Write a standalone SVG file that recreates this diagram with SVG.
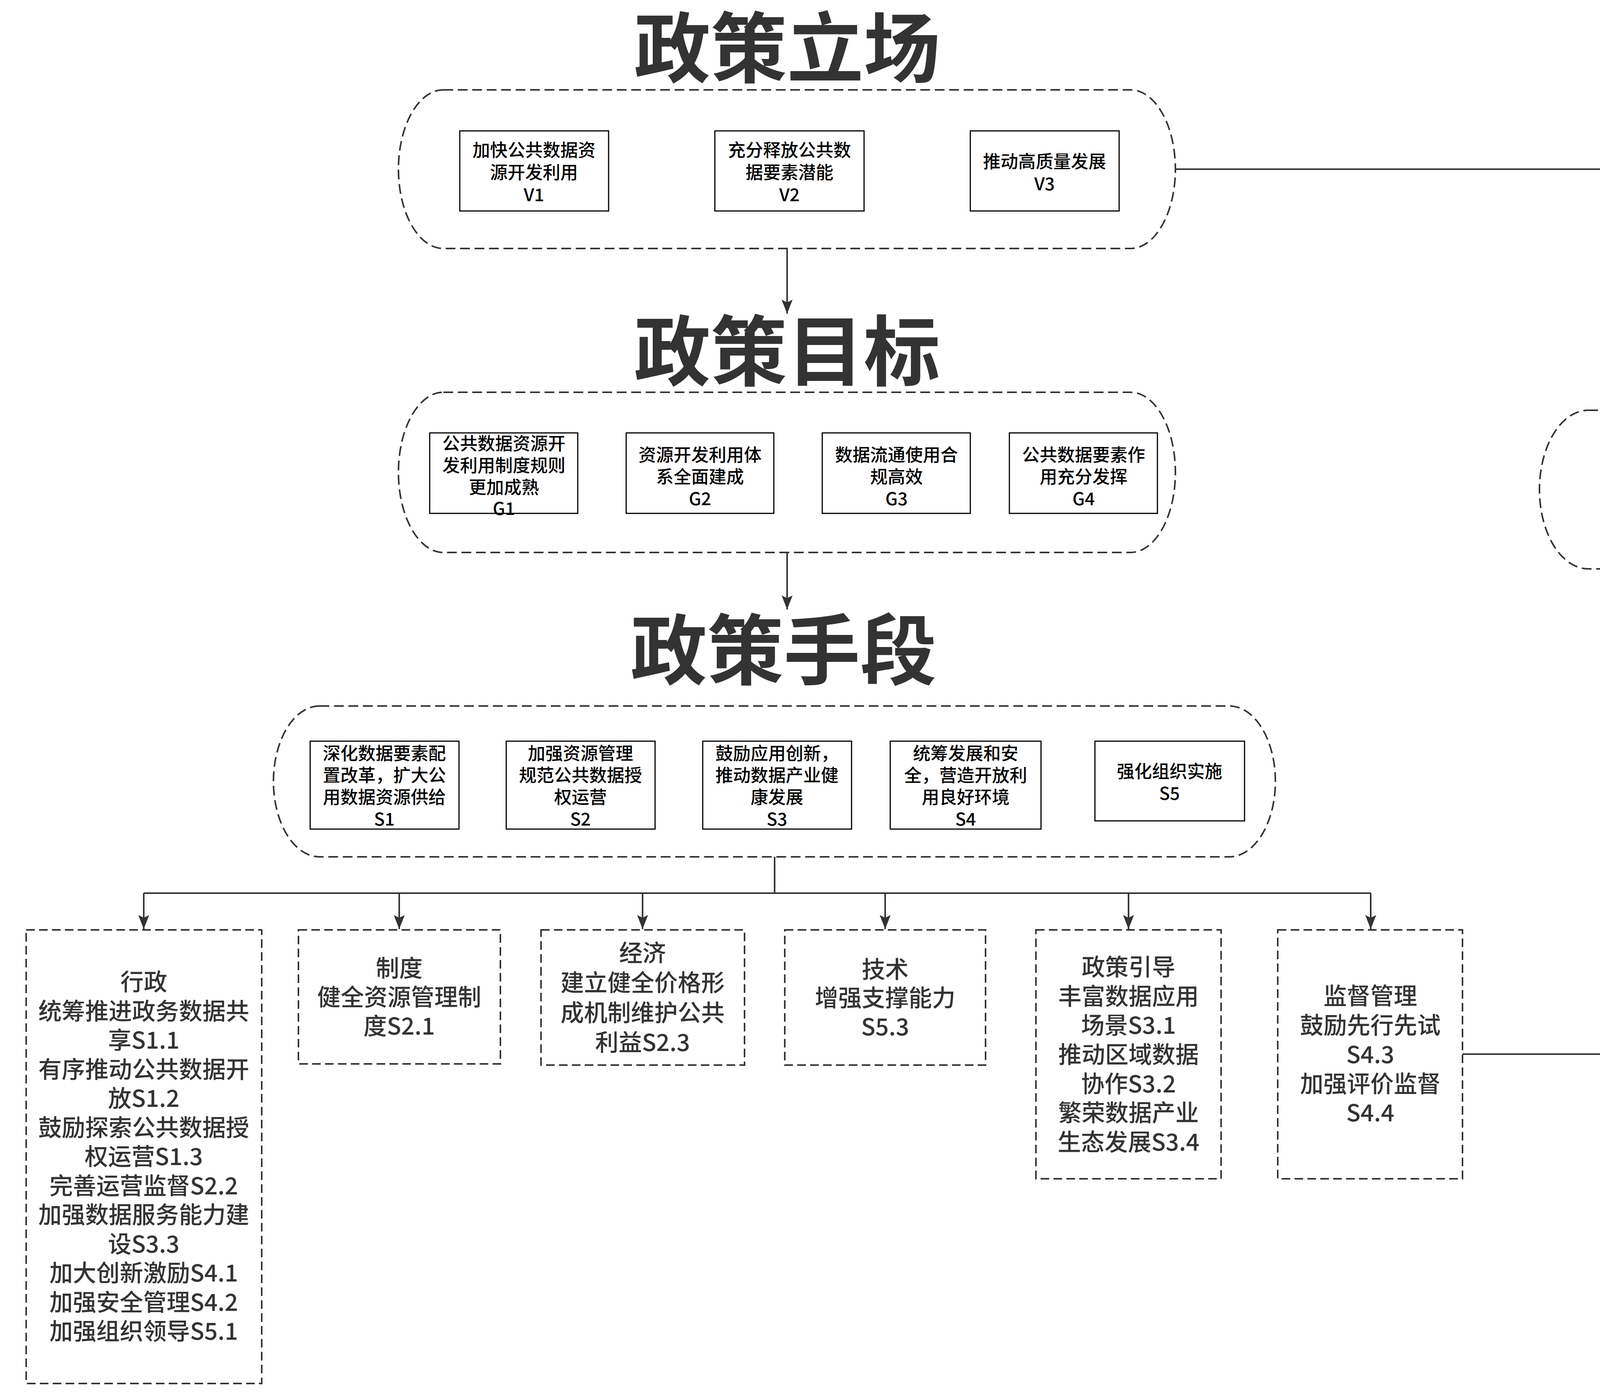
<svg xmlns="http://www.w3.org/2000/svg" width="6006" height="3573" viewBox="0 0 6006 3573">
<defs>
<style>
.title{font-family:"Noto Sans CJK SC","Noto Sans",sans-serif;font-weight:bold;font-size:196px;fill:#333;text-anchor:middle}
.bt{font-family:"Noto Sans CJK SC","Noto Sans",sans-serif;font-weight:500;font-size:45px;fill:#000;text-anchor:middle}
.lt{font-family:"Noto Sans CJK SC","Noto Sans",sans-serif;font-weight:500;font-size:60px;fill:#333;text-anchor:middle}
.cont{fill:#fff;stroke:#333;stroke-width:4;stroke-dasharray:25 12}
.box{fill:#fff;stroke:#000;stroke-width:3}
.dbox{fill:#fff;stroke:#333;stroke-width:4;stroke-dasharray:22 11}
.edge{fill:none;stroke:#333;stroke-width:4}
</style>
<marker id="arr" markerUnits="userSpaceOnUse" markerWidth="40" markerHeight="30" refX="36" refY="14" orient="auto">
<path d="M0,0 L36,14 L0,28 L7,14 Z" fill="#333"/>
</marker>
</defs>
<rect width="6006" height="3573" fill="#fff"/>

<g id="connectors">
<path class="edge" d="M2015,636 V803" marker-end="url(#arr)"/>
<path class="edge" d="M2015,1414 V1560" marker-end="url(#arr)"/>
<path class="edge" d="M3009,433 H4937 V817"/>
<path class="edge" d="M4937,1456 V2698 H3744"/>
<path class="edge" d="M1983,2193 V2286"/>
<path class="edge" d="M368,2286 H3509"/>
<path class="edge" d="M368,2286 V2378" marker-end="url(#arr)"/>
<path class="edge" d="M1022,2286 V2378" marker-end="url(#arr)"/>
<path class="edge" d="M1645,2286 V2378" marker-end="url(#arr)"/>
<path class="edge" d="M2266,2286 V2378" marker-end="url(#arr)"/>
<path class="edge" d="M2889,2286 V2378" marker-end="url(#arr)"/>
<path class="edge" d="M3509,2286 V2378" marker-end="url(#arr)"/>
</g>

<g id="stance">
<text class="title" x="2015" y="195">政策立场</text>
<rect class="cont" x="1020" y="230" width="1989" height="406" rx="115" ry="203"/>
</g>
<g id="V1">
<rect class="box" x="1177" y="335" width="381" height="205"/>
<text class="bt" x="1367" y="401">加快公共数据资</text>
<text class="bt" x="1367" y="458">源开发利用</text>
<text class="bt" x="1367" y="515">V1</text>
</g>
<g id="V2">
<rect class="box" x="1830" y="335" width="382" height="205"/>
<text class="bt" x="2021" y="401">充分释放公共数</text>
<text class="bt" x="2021" y="458">据要素潜能</text>
<text class="bt" x="2021" y="515">V2</text>
</g>
<g id="V3">
<rect class="box" x="2484" y="335" width="381" height="205"/>
<text class="bt" x="2674" y="430">推动高质量发展</text>
<text class="bt" x="2674" y="487">V3</text>
</g>

<g id="goal">
<text class="title" x="2015" y="971">政策目标</text>
<rect class="cont" x="1020" y="1004" width="1989" height="410" rx="115" ry="205"/>
</g>
<g id="G1">
<rect class="box" x="1100" y="1108" width="379" height="206"/>
<text class="bt" x="1290" y="1152">公共数据资源开</text>
<text class="bt" x="1290" y="1208">发利用制度规则</text>
<text class="bt" x="1290" y="1264">更加成熟</text>
<text class="bt" x="1290" y="1318">G1</text>
</g>
<g id="G2">
<rect class="box" x="1603" y="1108" width="378" height="206"/>
<text class="bt" x="1792" y="1181">资源开发利用体</text>
<text class="bt" x="1792" y="1237">系全面建成</text>
<text class="bt" x="1792" y="1293">G2</text>
</g>
<g id="G3">
<rect class="box" x="2105" y="1108" width="379" height="206"/>
<text class="bt" x="2295" y="1181">数据流通使用合</text>
<text class="bt" x="2295" y="1237">规高效</text>
<text class="bt" x="2295" y="1293">G3</text>
</g>
<g id="G4">
<rect class="box" x="2584" y="1108" width="379" height="206"/>
<text class="bt" x="2774" y="1181">公共数据要素作</text>
<text class="bt" x="2774" y="1237">用充分发挥</text>
<text class="bt" x="2774" y="1293">G4</text>
</g>

<g id="means">
<text class="title" x="2006" y="1736">政策手段</text>
<rect class="cont" x="700" y="1807" width="2565" height="386" rx="118" ry="193"/>
</g>
<g id="S1">
<rect class="box" x="794" y="1897" width="381" height="225"/>
<text class="bt" x="984" y="1945">深化数据要素配</text>
<text class="bt" x="984" y="2001">置改革，扩大公</text>
<text class="bt" x="984" y="2057">用数据资源供给</text>
<text class="bt" x="984" y="2113">S1</text>
</g>
<g id="S2">
<rect class="box" x="1296" y="1897" width="381" height="225"/>
<text class="bt" x="1486" y="1945">加强资源管理</text>
<text class="bt" x="1486" y="2001">规范公共数据授</text>
<text class="bt" x="1486" y="2057">权运营</text>
<text class="bt" x="1486" y="2113">S2</text>
</g>
<g id="S3">
<rect class="box" x="1799" y="1897" width="381" height="225"/>
<text class="bt" x="1989" y="1945">鼓励应用创新，</text>
<text class="bt" x="1989" y="2001">推动数据产业健</text>
<text class="bt" x="1989" y="2057">康发展</text>
<text class="bt" x="1989" y="2113">S3</text>
</g>
<g id="S4">
<rect class="box" x="2279" y="1897" width="386" height="225"/>
<text class="bt" x="2472" y="1945">统筹发展和安</text>
<text class="bt" x="2472" y="2001">全，营造开放利</text>
<text class="bt" x="2472" y="2057">用良好环境</text>
<text class="bt" x="2472" y="2113">S4</text>
</g>
<g id="S5">
<rect class="box" x="2803" y="1897" width="383" height="204"/>
<text class="bt" x="2994" y="1991">强化组织实施</text>
<text class="bt" x="2994" y="2047">S5</text>
</g>

<g id="result">
<text class="title" x="4938" y="1015">预期结果</text>
<rect class="cont" x="3941" y="1050" width="1991" height="406" rx="125" ry="203"/>
</g>
<g id="R1">
<rect class="box" x="4098" y="1155" width="697" height="205"/>
<text class="bt" x="4446" y="1278">促进公共数据合规高效流通R1</text>
</g>
<g id="R2">
<rect class="box" x="5109" y="1155" width="707" height="205"/>
<text class="bt" x="5462" y="1278">提高资源开发利用水平R2</text>
</g>

<g id="admin">
<rect class="dbox" x="67" y="2380" width="603" height="1161"/>
<text class="lt" x="368" y="2535">行政</text>
<text class="lt" x="368" y="2610">统筹推进政务数据共</text>
<text class="lt" x="368" y="2684">享S1.1</text>
<text class="lt" x="368" y="2759">有序推动公共数据开</text>
<text class="lt" x="368" y="2833">放S1.2</text>
<text class="lt" x="368" y="2908">鼓励探索公共数据授</text>
<text class="lt" x="368" y="2982">权运营S1.3</text>
<text class="lt" x="368" y="3057">完善运营监督S2.2</text>
<text class="lt" x="368" y="3131">加强数据服务能力建</text>
<text class="lt" x="368" y="3206">设S3.3</text>
<text class="lt" x="368" y="3280">加大创新激励S4.1</text>
<text class="lt" x="368" y="3355">加强安全管理S4.2</text>
<text class="lt" x="368" y="3429">加强组织领导S5.1</text>
</g>
<g id="institution">
<rect class="dbox" x="764" y="2380" width="517" height="343"/>
<text class="lt" x="1022" y="2500">制度</text>
<text class="lt" x="1022" y="2574">健全资源管理制</text>
<text class="lt" x="1022" y="2648">度S2.1</text>
</g>
<g id="economy">
<rect class="dbox" x="1385" y="2380" width="521" height="346"/>
<text class="lt" x="1645" y="2461">经济</text>
<text class="lt" x="1645" y="2537">建立健全价格形</text>
<text class="lt" x="1645" y="2614">成机制维护公共</text>
<text class="lt" x="1645" y="2690">利益S2.3</text>
</g>
<g id="technology">
<rect class="dbox" x="2009" y="2380" width="514" height="346"/>
<text class="lt" x="2266" y="2503">技术</text>
<text class="lt" x="2266" y="2576">增强支撑能力</text>
<text class="lt" x="2266" y="2650">S5.3</text>
</g>
<g id="guidance">
<rect class="dbox" x="2652" y="2380" width="474" height="637"/>
<text class="lt" x="2889" y="2497">政策引导</text>
<text class="lt" x="2889" y="2572">丰富数据应用</text>
<text class="lt" x="2889" y="2646">场景S3.1</text>
<text class="lt" x="2889" y="2721">推动区域数据</text>
<text class="lt" x="2889" y="2796">协作S3.2</text>
<text class="lt" x="2889" y="2870">繁荣数据产业</text>
<text class="lt" x="2889" y="2945">生态发展S3.4</text>
</g>
<g id="supervision">
<rect class="dbox" x="3271" y="2380" width="473" height="637"/>
<text class="lt" x="3508" y="2571">监督管理</text>
<text class="lt" x="3508" y="2646">鼓励先行先试</text>
<text class="lt" x="3508" y="2721">S4.3</text>
<text class="lt" x="3508" y="2796">加强评价监督</text>
<text class="lt" x="3508" y="2870">S4.4</text>
</g>
</svg>
